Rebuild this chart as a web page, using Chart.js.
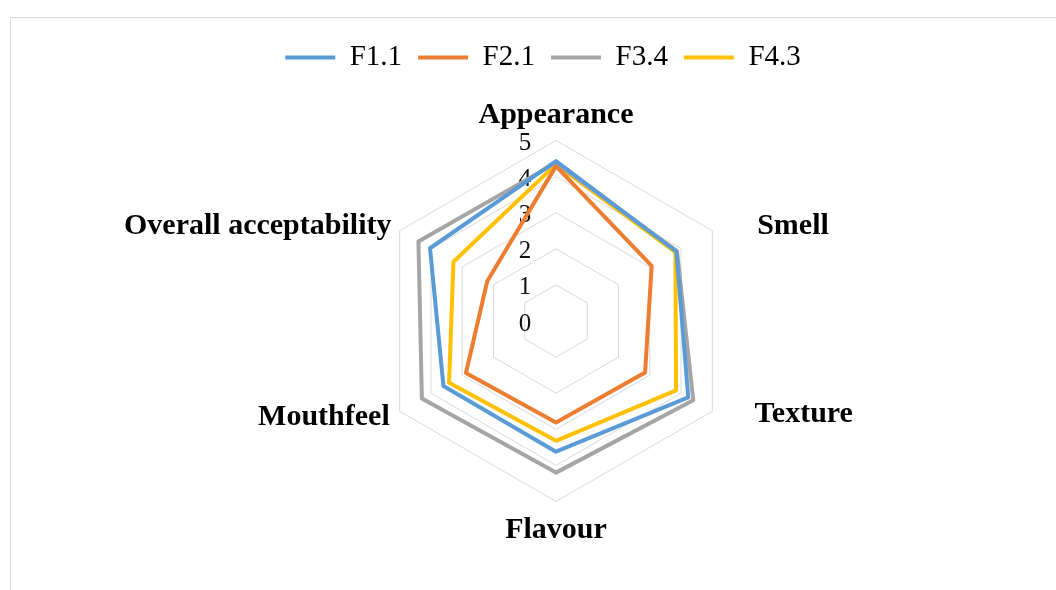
<!DOCTYPE html>
<html>
<head>
<meta charset="utf-8">
<title>Sensory radar</title>
<script src="https://cdn.jsdelivr.net/npm/chart.js@4.4.1/dist/chart.umd.min.js"></script>
<style>
  html, body { margin: 0; padding: 0; background: #fff; overflow: hidden; }
  #frame { position: absolute; left: 10px; top: 17px; width: 1200px; height: 700px; border: 1px solid #d9d9d9; box-sizing: border-box; }
  #wrap { position: absolute; left: 0; top: 0; width: 1056px; height: 590px; }
</style>
</head>
<body>
<div id="frame"></div>
<div id="wrap"><canvas id="radarChart"></canvas></div>
<script>
// sensory scores
const categories = ['Appearance', 'Smell', 'Texture', 'Flavour', 'Mouthfeel', 'Overall acceptability'];
const seriesNames = ['F1.1', 'F2.1', 'F3.4', 'F4.3'];
const f11Scores = [4.43, 3.85, 4.23, 3.62, 3.60, 4.03];
const f21Scores = [4.29, 3.06, 2.85, 2.81, 2.88, 2.20];
const f34Scores = [4.38, 3.87, 4.39, 4.20, 4.29, 4.40];
const f43Scores = [4.34, 3.82, 3.84, 3.32, 3.42, 3.28];
const tickValues = [0, 1, 2, 3, 4, 5];

(function(){
  const serif = '"Liberation Serif", "Times New Roman", serif';
  const colors = ['#5B9BD5', '#ED7D31', '#A5A5A5', '#FFC000'];
  const allScores = [f11Scores, f21Scores, f34Scores, f43Scores];

  // label tweaks so the axis names sit where Excel put them
  const labelPad = [-7, -6, -9, -4, -3, -5];
  const labelIndent = [0, 5, 5, 0, 0, 0];

  const datasets = seriesNames.map((name, i)=>({
    label: name,
    data: allScores[i],
    borderColor: colors[i],
    backgroundColor: colors[i],
    borderWidth: 4,
    borderJoinStyle: 'round',
    borderCapStyle: 'round',
    pointRadius: 0,
    pointHoverRadius: 0,
    fill: false,
    tension: 0
  }));

  // a bit of air under the legend
  const legendGap = {
    id: 'legendGap',
    beforeInit(chart){
      const fit = chart.legend.fit;
      chart.legend.fit = function(){
        fit.call(this);
        this.height += 14;
      };
    }
  };

  // legend sits a little left of the plot centre
  const legendShift = {
    id: 'legendShift',
    afterLayout(chart){
      const lg = chart.legend;
      if(!lg) return;
      lg.left -= 13;
      lg.right -= 13;
    }
  };

  // tick numbers are drawn left of the vertical axis
  const tickShift = {
    id: 'tickShift',
    afterLayout(chart){
      const s = chart.scales.r;
      if(!s || s._tickShifted) return;
      const orig = s.drawLabels;
      s.drawLabels = function(area){
        this.ctx.save();
        this.ctx.translate(-31, 3);
        orig.call(this, area);
        this.ctx.restore();
      };
      s._tickShifted = true;
    }
  };

  new Chart(document.getElementById('radarChart'), {
    type: 'radar',
    data: { labels: categories, datasets },
    plugins: [legendGap, legendShift, tickShift],
    options: {
      responsive: true,
      maintainAspectRatio: false,
      animation: false,
      layout: { padding: { left: 56, right: 0, top: 27, bottom: 41 } },
      plugins: {
        legend: {
          position: 'top',
          labels: {
            usePointStyle: true,
            pointStyle: 'line',
            pointStyleWidth: 50,
            padding: 16,
            color: '#000',
            font: { family: serif, size: 29 }
          }
        },
        tooltip: { enabled: false }
      },
      scales: {
        r: {
          min: -0.000001,
          max: tickValues[tickValues.length - 1],
          beginAtZero: false,
          angleLines: { display: false },
          grid: { color: '#D9D9D9', lineWidth: 1, circular: false },
          ticks: {
            stepSize: 1,
            showLabelBackdrop: false,
            color: '#111',
            font: { family: serif, size: 25 },
            callback: (v)=> String(Math.abs(Math.round(v)))
          },
          pointLabels: {
            color: '#000',
            padding: (ctx)=> labelPad[ctx.index],
            font: (ctx)=> ({
              family: serif,
              size: 30,
              weight: 'bold',
              lineHeight: (ctx.index === 0 || ctx.index === 3) ? 1.2 : 0
            }),
            callback: (label, i)=> ' '.repeat(labelIndent[i]) + label
          }
        }
      }
    }
  });
})();
</script>
</body>
</html>
